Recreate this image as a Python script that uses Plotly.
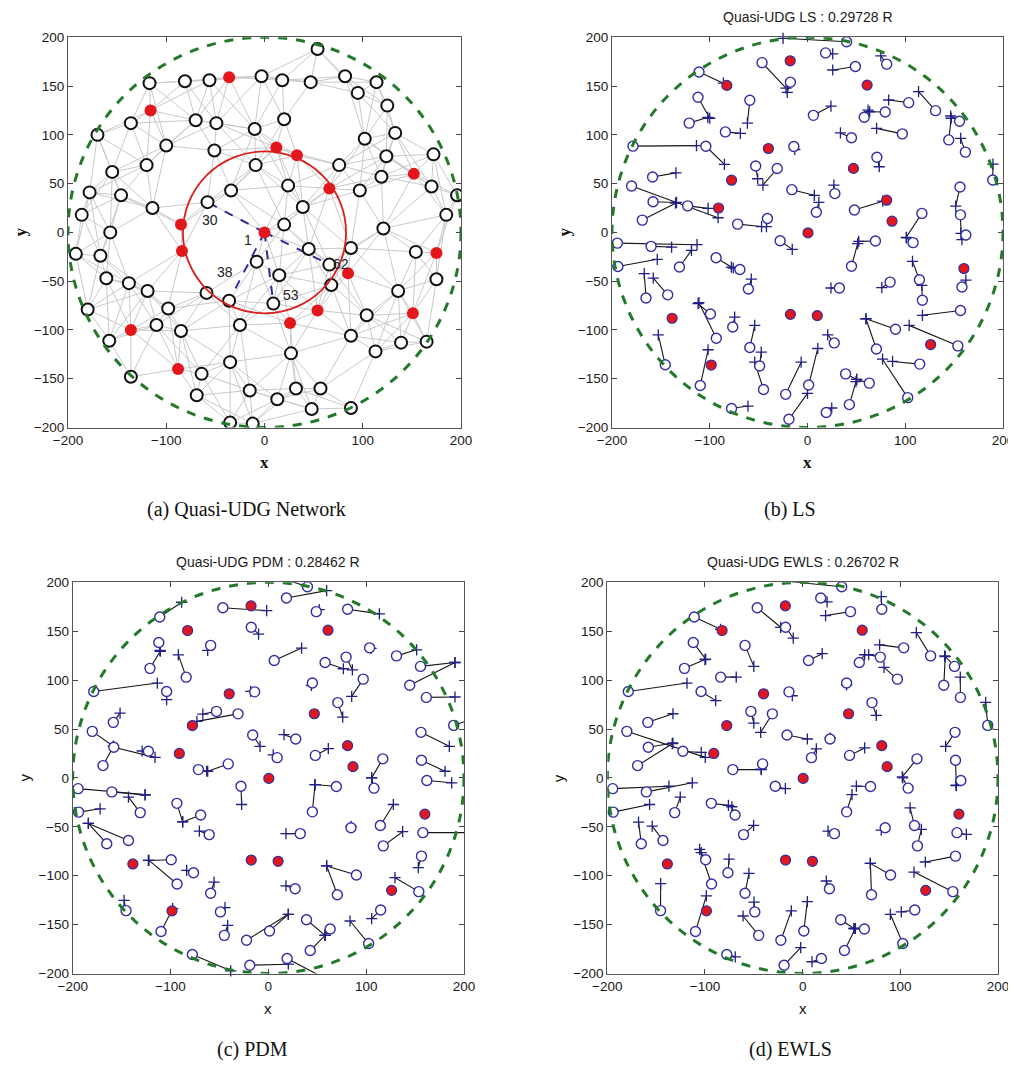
import plotly.graph_objects as go
import math

W, H = 1016, 1066
PAGE_MARGIN = 8   # default body margin of the html page, compensated in layout

# ---------------- Panel (a): network ----------------
A_BLACK_X = [-117, -81, -56, -3, -136, -170, -70, -49, -10, -100, -51, -120, -155, -9, -178, -146, -34, -58, -114, -186, -157,
             54, 18, 47, 82, 114, 95, 125, 20, 133, 102, 124, 172, 76, 119, 24, 97, 170, 196, 39, 185, 20, 121,
             -192, -167, -8, -161, -138, -119, -59, -36, -180, -98, -25, -110, -85, -158, -35, -64, -136, -15, -69, -35, -12,
             45, 88, 154, 66, 15, 68, 175, 136, 9, 104, 88, 139, 165, 113, 27, 32, 57, 13, 48, 88]
A_BLACK_Y = [153, 155, 156, 160, 112, 100, 115, 112, 106, 89, 84, 69, 62, 69, 41, 38, 43, 31, 25, 18, 0,
             188, 156, 154, 160, 154, 143, 130, 116, 102, 96, 78, 80, 69, 57, 48, 43, 47, 38, 26, 18, 8, 4,
             -22, -24, -30, -47, -52, -60, -62, -70, -79, -78, -95, -95, -101, -111, -133, -145, -148, -162, -167, -195, -196,
             -17, -16, -20, -33, -44, -54, -48, -60, -73, -85, -106, -113, -112, -122, -124, -160, -160, -171, -181, -180]
A_RED_X = [-36, -116, 12, 33, 66, 152, -85, -84, 0, 85, 175, 26, 54, 151, -136, -88]
A_RED_Y = [159, 125, 87, 79, 45, 60, 8, -19, 0, -42, -21, -93, -80, -83, -100, -140]
RANGE = 68          # communication range used for the gray links
AREA_R = 200        # deployment radius
HOP_R = 83          # red one-hop circle around node 1
CENTER = (0, 0)
HL_LABELS = ["30", "38", "53", "62"]
HL_X = [-58, -36, 9, 66]
HL_Y = [31, -70, -73, -33]

# ---------------- Panels (b)-(d): localization ----------------
ANCHOR_X = [-17.7, -82.5, 61, -40, 47, -77.7, 81, -91, 86.5, 0.5, 160, -138.5, -17.5, 10, 126, -98.5]
ANCHOR_Y = [175.9, 150.7, 151, 86, 65.6, 53.5, 33, 25, 11.5, -0.5, -37, -88, -84, -85.3, -115, -136]

TRUE_X = [40, 18.5, 81, -46.5, -17.5, 49, -111, -112, -121, -59, 6, 58, 79.5, 103.5, 131, 155.5, 144.5, 161.5, 97, 71,
          45, -14, -84, -104, -178.5, -53, -31, -158.5, -16, 28, -180, -158, -169, -122.6, 9, 48, -71.5, -41, -28, 69.5,
          117, 108, 156, 156.5, 162, 189.5, -194.5, -160, -194, -131, -93.5, -69.2, 45, -60.5, 32.6, 84.5, 114.5, 117.5, 158, -165.2,
          -143, -99.3, -93.3, -76.5, -59, -49, -45, -145.5, -109.7, -77.7, -22.3, 1.2, -19, 19.2, 27.4, 39, 63.2, 42.8, 70.5, 90,
          114.8, 102.5, 153.8, 156.5]
TRUE_Y = [195.5, 184, 172.5, 174, 154, 170, 164.5, 138.5, 112, 135.5, 120, 118, 123.5, 133, 124.8, 114, 94.8, 82.3, 101, 77,
          97, 88, 103, 88.3, 88.4, 68, 65.5, 56.8, 43.8, 39.8, 47.6, 31.4, 12.6, 27.2, 20.7, 23, 8.5, 14.3, -8.5, -8.8,
          19.5, -10.5, 46.6, 18, -2.7, 53.7, -11, -14.3, -35, -35.5, -26, -38, -34.7, -58, -57, -51, -48.6, -69.5, -56, -67.3,
          -64, -83.7, -108.5, -97, -118, -137, -161, -135.7, -157, -180.5, -166, -156.5, -191.5, -184.7, -113.3, -145, -154.5, -176.5, -119.5, -99.3,
          -135, -169.4, -116.3, -80]

LS_X = [-25, 25.8, 75, -22, -20.7, 25.8, -86, -100, -102, -61.5, 24, 62, 63.6, 83, 113.6, 146.5, 147, 156.7, 70.7, 73.4,
        33.7, -13, -68.7, -85, -113.6, -51, -45.6, -134.6, 7, 27, -91.5, -134, -135, -101.7, 11.6, 77, -47, -42, -15.6, 52.4,
        101, 101.3, 151.6, 157, 158, 189.7, -113, -139, -153.7, -118.7, -77.9, -76, 51.3, -57.5, 24, 76, 107.4, 117, 162, -167,
        -157.8, -111.9, -111, -74.5, -54, -47.3, -54, -152.7, -101.7, -60.9, -6.5, 10.5, 0, 24.8, 20.7, 50.3, 50.3, 49.6, 59.8, 59.8,
        87, 76.8, 104, 117.6]
LS_Y = [199, 183, 181, 148, 143.6, 166.5, 153, 117, 118, 112, 129.5, 125.4, 123.7, 135.7, 144.3, 119.3, 117, 96.4, 106.6, 67.3,
        102, 85, 101.5, 69.7, 89, 55, 48.5, 61, 38, 48.5, 15, 30.7, 30, 24.6, 30.7, 32, 6, 6, -17.4, -9.2,
        -5, -5.7, 27, -1, -7.5, 70, -12.6, -15, -27.6, -18.4, -35.5, -36.5, -11.5, -48, -57, -56.7, -29.7, -54.3, -49, -42.3,
        -46.8, -73, -72, -86.8, -95.3, -122.7, -133, -105, -120.3, -178, -133, -119, -165, -180, -105, -150.7, -150.7, -153, -88.5, -88.5,
        -132.3, -130, -95.3, -85]

PDM_X = [5, 59.6, 113.5, -1.7, -10, 52, -88.6, -110.7, -110.5, -62, 34, 76.7, 85.9, 105, 151.6, 190.8, 190.8, 190.8, 85.2, 76,
         44, -18, -92, -104, -113.5, -67, -73, -151.6, -8.5, 16, -158.4, -115.8, -158.4, -129, 5, 61.3, -63, -62, -27.3, 47.7,
         105.6, 105.6, 185, 180.6, 187.4, 201, -126, -126, -172, -143, -87.6, -87.6, 47.7, -70.5, 18, 84.5, 127.8, 137.3, 200.3, -184,
         -184, -122.7, -122, -83.5, -55.5, -44.3, -41.6, -147.5, -97.8, -38.5, 20.4, 20.4, 20.4, 56, 18, 58, 58, 58, 59.6, 59.6,
         105.6, 83.5, 129.5, 153.3]
PDM_Y = [207, 191.5, 167.7, 171, 147, 172, 179.6, 130.3, 129.5, 130.3, 132.7, 111.6, 110.5, 132.5, 131, 118, 118, 82.7, 83.3, 62.2,
         94.5, 88.4, 125.8, 80, 97, 65.3, 57.8, 66.3, 32.3, 44.2, 32.3, 21, 32.3, 27.5, 23.5, 30, 6.8, 6.8, -27.2, -6.8,
         0, 0, 32.3, 6.8, -5, 57.8, -17, -17.5, -31.6, -19.7, -45, -45, -6.8, -54.4, -57, -49.5, -27.2, -55, -56, -46.6,
         -46.6, -84.4, -84.4, -94.6, -106.5, -132.7, -150.7, -125.2, -133.7, -197.3, -139.5, -139.5, -190.5, -204, -110.5, -161, -161, -161, -90, -90,
         -143.9, -146.3, -102, -91.8]

EWLS_X = [-11.6, 25, 80.5, -22.5, -9.6, 23.5, -84, -99.3, -100, -50, 20, 63.5, 67.6, 78.8, 116.4, 145.4, 146, 161.4, 83.3, 75.4,
          45, -10.6, -68, -89, -118.4, -50, -43, -132.8, 4.8, 28.3, -99.7, -132.8, -133.5, -103.8, 14, 63.5, -42.3, -42.5, -17.7, 55,
          102, 102.5, 146.4, 157.3, 157, 187.4, -136.9, -113, -156.7, -125.3, -76, -72.5, 50.5, -50.2, 26, 80.5, 110, 121.5, 167.6, -168,
          -154, -103.8, -105.5, -75.4, -55, -49.8, -61, -145.4, -98.6, -69, -11.6, 4.8, -2, 9.6, 24.2, 52.6, 52.6, 54, 69.3, 69.3,
          101, 89.8, 114, 125.6]
EWLS_Y = [200.5, 180, 185.4, 154, 143, 166, 152, 121.4, 121, 114, 127, 125.9, 125.9, 136, 148.6, 124.8, 124, 103, 113, 64,
          95, 84, 103, 79, 97, 56, 46.6, 65.6, 39.8, 40.8, 21, 35.7, 35, 26, 29.6, 30.6, 8.5, 9, -11, -8.5,
          1, 0, 32.3, -7.8, -7.5, 77.2, -8.5, -5, -27.2, -19.7, -28, -29.5, -17, -48.6, -54.4, -53.4, -30.6, -52.7, -57.8, -45.2,
          -49.3, -76.5, -73, -83, -97.6, -127, -141.2, -108.2, -120.7, -183, -136, -126.5, -173.5, -188, -105.4, -154, -154, -154, -87.4, -87.4,
          -137, -139.5, -96.3, -86]

TITLES = ["Quasi-UDG LS : 0.29728 R", "Quasi-UDG PDM : 0.28462 R", "Quasi-UDG EWLS : 0.26702 R"]
CAPTIONS = ["(a) Quasi-UDG Network", "(b) LS", "(c) PDM", "(d) EWLS"]
X_TICKS = [-200, -100, 0, 100, 200]
Y_TICKS = [-200, -150, -100, -50, 0, 50, 100, 150, 200]

# ---------------- layout geometry (screen pixels) ----------------
PANELS = {  # left, right, top, bottom
    1: (68, 461, 37.3, 427.5),
    2: (612, 1003, 37.3, 427.5),
    3: (72.7, 464, 582.3, 973.5),
    4: (607.3, 998, 582.3, 973.5),
}

def fx(px):
    return (px - PAGE_MARGIN) / W

def fy(py):
    return 1 - (py - PAGE_MARGIN) / H

GREEN = "#23792a"
BLUE = "#2e2ea6"
NAVY = "#1f1f86"
RED = "#e3161b"
SANS = "Liberation Sans, Arial, sans-serif"
SERIF = "Liberation Serif, Times New Roman, serif"

fig = go.Figure()

def xr(k):
    return "x" if k == 1 else f"x{k}"

def yr(k):
    return "y" if k == 1 else f"y{k}"

# ---- panel (a) ----
all_x = A_BLACK_X + A_RED_X
all_y = A_BLACK_Y + A_RED_Y
ex, ey = [], []
for i in range(len(all_x)):
    for j in range(i + 1, len(all_x)):
        if math.hypot(all_x[i] - all_x[j], all_y[i] - all_y[j]) < RANGE:
            ex += [all_x[i], all_x[j], None]
            ey += [all_y[i], all_y[j], None]
fig.add_trace(go.Scatter(x=ex, y=ey, mode="lines", line=dict(color="#c9c9c9", width=1),
                         hoverinfo="skip", showlegend=False, xaxis="x", yaxis="y"))
hx, hy = [], []
for x, y in zip(HL_X, HL_Y):
    hx += [CENTER[0], x, None]
    hy += [CENTER[1], y, None]
fig.add_trace(go.Scatter(x=hx, y=hy, mode="lines", line=dict(color="#2b2b9a", width=2, dash="dash"),
                         showlegend=False, xaxis="x", yaxis="y"))
fig.add_trace(go.Scatter(x=A_BLACK_X, y=A_BLACK_Y, mode="markers",
                         marker=dict(symbol="circle", size=12, color="white", line=dict(color="#111", width=2)),
                         showlegend=False, xaxis="x", yaxis="y"))
fig.add_trace(go.Scatter(x=A_RED_X, y=A_RED_Y, mode="markers",
                         marker=dict(symbol="circle", size=12, color=RED, line=dict(color=RED, width=0)),
                         showlegend=False, xaxis="x", yaxis="y"))

# ---- panels (b)-(d) ----
for k, (ex_, ey_) in zip([2, 3, 4], [(LS_X, LS_Y), (PDM_X, PDM_Y), (EWLS_X, EWLS_Y)]):
    lx, ly = [], []
    for tx, ty, sx, sy in zip(TRUE_X, TRUE_Y, ex_, ey_):
        lx += [tx, sx, None]
        ly += [ty, sy, None]
    fig.add_trace(go.Scatter(x=lx, y=ly, mode="lines", line=dict(color="#151515", width=1.1),
                             showlegend=False, xaxis=xr(k), yaxis=yr(k)))
    fig.add_trace(go.Scatter(x=ex_, y=ey_, mode="markers",
                             marker=dict(symbol="cross-thin", size=8, line=dict(color=NAVY, width=1.3)),
                             showlegend=False, xaxis=xr(k), yaxis=yr(k), cliponaxis=False))
    fig.add_trace(go.Scatter(x=TRUE_X, y=TRUE_Y, mode="markers",
                             marker=dict(symbol="circle", size=10, color="white", line=dict(color=BLUE, width=1.4)),
                             showlegend=False, xaxis=xr(k), yaxis=yr(k)))
    fig.add_trace(go.Scatter(x=ANCHOR_X, y=ANCHOR_Y, mode="markers",
                             marker=dict(symbol="circle", size=10, color=RED, line=dict(color=BLUE, width=1.2)),
                             showlegend=False, xaxis=xr(k), yaxis=yr(k)))

shapes = []
for k in range(1, 5):
    shapes.append(dict(type="circle", xref=xr(k), yref=yr(k), x0=-AREA_R, x1=AREA_R, y0=-AREA_R, y1=AREA_R,
                       line=dict(color=GREEN, width=3, dash="dash"), layer="above"))
shapes.append(dict(type="circle", xref="x", yref="y", x0=CENTER[0] - HOP_R, x1=CENTER[0] + HOP_R,
                   y0=CENTER[1] - HOP_R, y1=CENTER[1] + HOP_R, line=dict(color="#d9201f", width=1.8), layer="above"))

layout = dict(width=W, height=H, margin=dict(l=0, r=0, t=0, b=0, autoexpand=False), paper_bgcolor="white",
              plot_bgcolor="white", shapes=shapes, showlegend=False)
tickfont = dict(family=SANS, size=13.5, color="#1a1a1a")
for k, (l, r, t, b) in PANELS.items():
    xd = [fx(l), fx(r)]
    yd = [fy(b), fy(t)]
    common = dict(range=[-200, 200], ticks="inside", ticklen=5, tickcolor="#444", showline=True,
                  linecolor="#555", linewidth=1, mirror="ticks", showgrid=False, zeroline=False,
                  tickfont=tickfont, fixedrange=True, automargin=False)
    layout["xaxis" if k == 1 else f"xaxis{k}"] = dict(domain=xd, anchor=yr(k), tickvals=X_TICKS, **common)
    layout["yaxis" if k == 1 else f"yaxis{k}"] = dict(domain=yd, anchor=xr(k), tickvals=Y_TICKS, **common)

ann = []
# axis labels
for k, (l, r, t, b) in PANELS.items():
    if k in (1, 2):
        xt, yt, fam, sz = "<b>x</b>", "<b>y</b>", SERIF, 17
    else:
        xt, yt, fam, sz = "x", "y", SANS, 15
    ann.append(dict(text=xt, x=fx((l + r) / 2), y=fy(b + 35), xref="paper", yref="paper",
                    showarrow=False, font=dict(family=fam, size=sz, color="#111"), xanchor="center", yanchor="middle"))
    ann.append(dict(text=yt, x=fx(l - 48), y=fy((t + b) / 2), xref="paper", yref="paper",
                    showarrow=False, textangle=-90, font=dict(family=fam, size=sz, color="#111"),
                    xanchor="center", yanchor="middle"))
# titles
for k, title in zip([2, 3, 4], TITLES):
    l, r, t, b = PANELS[k]
    ann.append(dict(text=title, x=fx((l + r) / 2), y=fy(t - 20), xref="paper", yref="paper",
                    showarrow=False, font=dict(family=SANS, size=14, color="#1a1a1a"),
                    xanchor="center", yanchor="middle"))
# captions
cap_pos = [(246, 510), (790, 510), (252, 1049), (790, 1049)]
for text, (cx, cy) in zip(CAPTIONS, cap_pos):
    ann.append(dict(text=text, x=fx(cx), y=fy(cy), xref="paper", yref="paper", showarrow=False,
                    font=dict(family=SERIF, size=20, color="#111"), borderpad=0,
                    xanchor="center", yanchor="middle"))
# node labels in panel (a)
ann.append(dict(text="1", x=CENTER[0] - 17, y=CENTER[1] - 8, xref="x", yref="y", showarrow=False,
                font=dict(family=SANS, size=14, color="#222")))
label_off = {"30": (3, -18), "38": (-4, 29), "53": (18, 9), "62": (12, 1)}
for lab, x, y in zip(HL_LABELS, HL_X, HL_Y):
    dx, dy = label_off[lab]
    ann.append(dict(text=lab, x=x + dx, y=y + dy, xref="x", yref="y", showarrow=False,
                    font=dict(family=SANS, size=14, color="#222")))
layout["annotations"] = ann

fig.update_layout(**layout)
fig.write_html("out.html")
